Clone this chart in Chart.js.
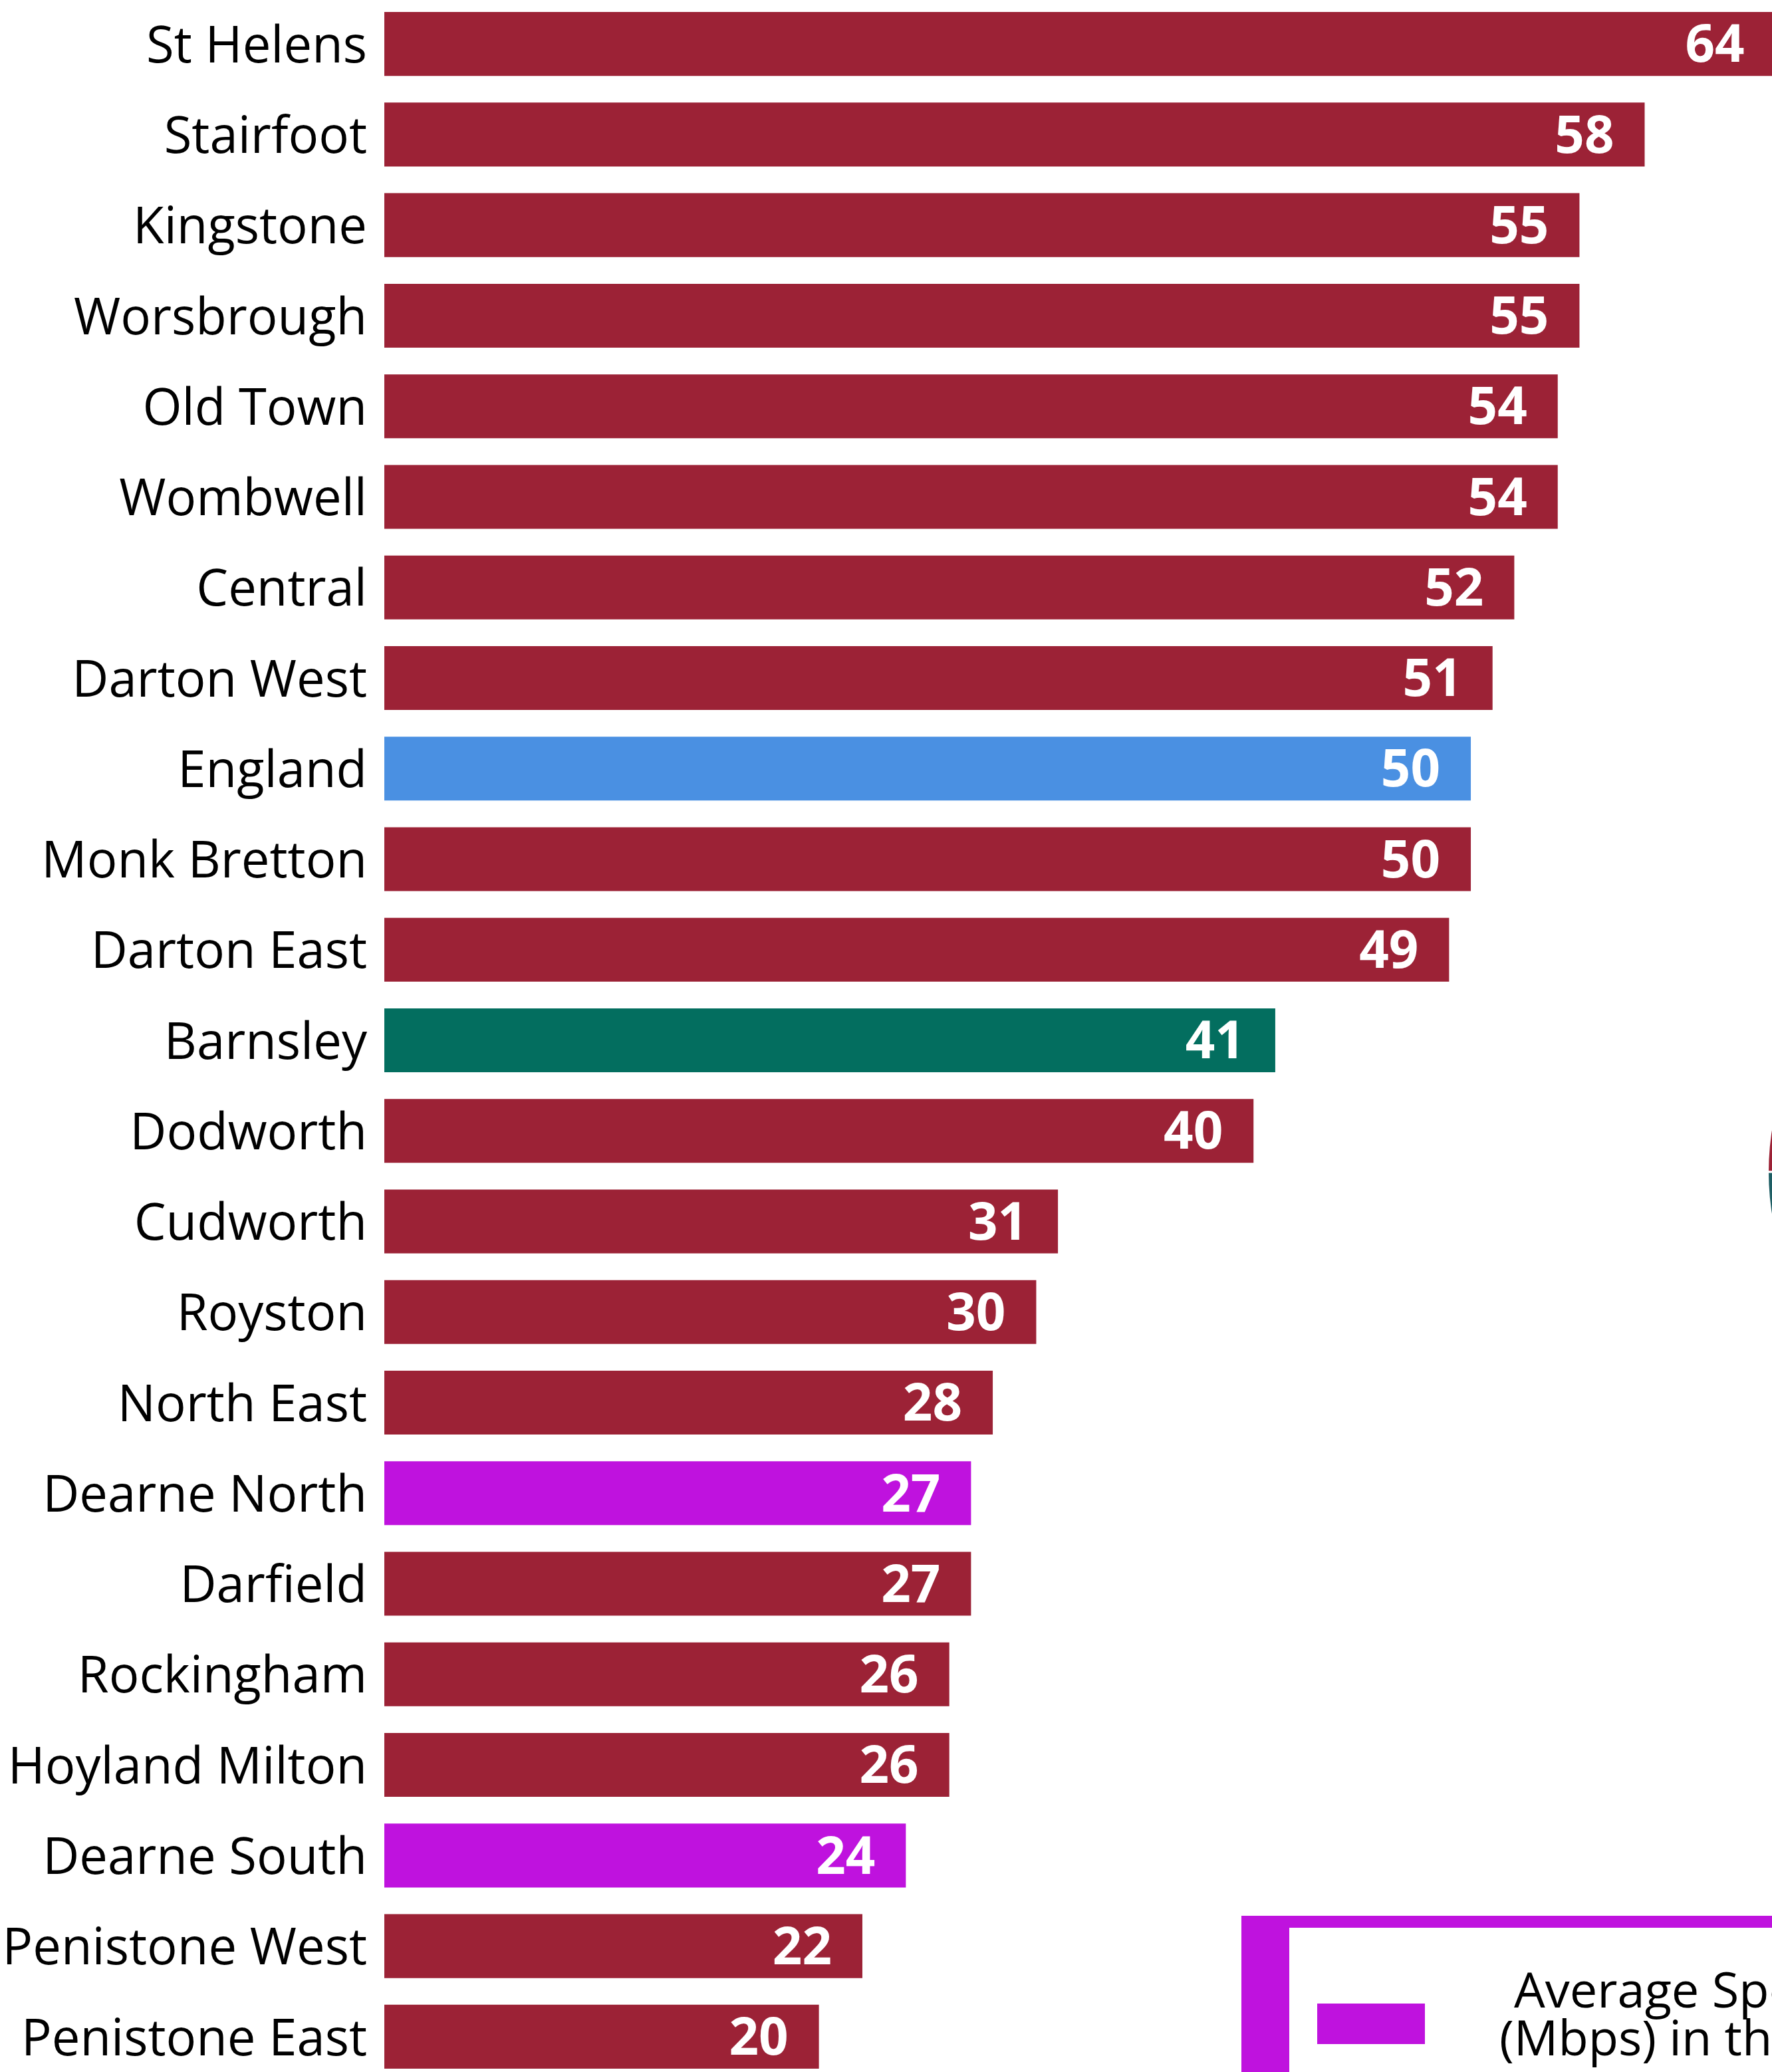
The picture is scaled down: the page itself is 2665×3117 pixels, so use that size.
<!DOCTYPE html>
<html>
<head>
<meta charset="utf-8">
<script src="https://cdn.jsdelivr.net/npm/chart.js@4"></script>
<style>
  html, body { margin: 0; padding: 0; background: #fff; overflow: hidden; width: 2665px; height: 3117px; }
  #barCanvas { position: absolute; left: 0; top: -2px; }
  #pieBox { position: absolute; left: 2657px; top: 1359px; width: 808px; height: 808px; }
</style>
</head>
<body>
<canvas id="barCanvas" width="2665" height="3134"></canvas>
<div id="pieBox"><canvas id="pieCanvas" width="808" height="808"></canvas></div>
<script>
// wards, sorted by speed
const wards = [
    "St Helens", "Stairfoot", "Kingstone", "Worsbrough", "Old Town", "Wombwell",
    "Central", "Darton West", "England", "Monk Bretton", "Darton East", "Barnsley",
    "Dodworth", "Cudworth", "Royston", "North East", "Dearne North", "Darfield",
    "Rockingham", "Hoyland Milton", "Dearne South", "Penistone West", "Penistone East"
];
const speeds = [64, 58, 55, 55, 54, 54, 52, 51, 50, 50, 49, 41, 40, 31, 30, 28, 27, 27, 26, 26, 24, 22, 20];
const legendLines = ["Average Speed", "(Mbps) in the area"];
const pieLabels = ["Above", "Below"];
const pieValues = [50, 50];

const RED = "#9c2236";
const BLUE = "#4a90e2";
const TEAL = "#036e5f";
const PURPLE = "#bf12de";

const barColours = wards.map(function (w) {
    if (w === "England") return BLUE;
    if (w === "Barnsley") return TEAL;
    if (w === "Dearne North" || w === "Dearne South") return PURPLE;
    return RED;
});

// white numbers at the end of each bar
const valueLabels = {
    id: "valueLabels",
    afterDatasetsDraw(chart) {
        const ctx = chart.ctx;
        const meta = chart.getDatasetMeta(0);
        ctx.save();
        ctx.fillStyle = "#ffffff";
        ctx.font = "bold 78px 'Open Sans'";
        ctx.textAlign = "right";
        ctx.textBaseline = "middle";
        meta.data.forEach(function (bar, i) {
            ctx.fillText(String(speeds[i]), bar.x - 46, bar.y + 5);
        });
        ctx.restore();
    }
};

// legend box in the bottom right corner (cut by the edge)
const legendBox = {
    id: "legendBox",
    afterDraw(chart) {
        const ctx = chart.ctx;
        ctx.save();
        ctx.fillStyle = PURPLE;
        ctx.fillRect(1867, 2884, 900, 300);
        ctx.fillStyle = "#ffffff";
        ctx.fillRect(1939, 2902, 900, 300);
        ctx.fillStyle = PURPLE;
        ctx.fillRect(1981, 3016, 162, 61);
        ctx.fillStyle = "#000000";
        ctx.font = "74px 'Open Sans'";
        ctx.textAlign = "left";
        ctx.textBaseline = "alphabetic";
        ctx.fillText(legendLines[0], 2277, 3022);
        ctx.fillText(legendLines[1], 2255, 3094);
        ctx.restore();
    }
};

const barChart = new Chart(document.getElementById("barCanvas"), {
    type: "bar",
    data: {
        labels: wards,
        datasets: [
            {
                label: "Average speed",
                data: speeds,
                backgroundColor: barColours,
                borderWidth: 0,
                barPercentage: 0.705,
                categoryPercentage: 1.0,
            },
        ],
    },
    options: {
        indexAxis: "y",
        responsive: false,
        animation: false,
        layout: { padding: 0 },
        plugins: {
            legend: { display: false },
            tooltip: { enabled: false },
        },
        scales: {
            x: {
                display: false,
                min: 0,
                max: 63.86,
            },
            y: {
                afterFit(scale) {
                    scale.width = 578;
                    scale.paddingTop = 0;
                    scale.paddingBottom = 0;
                },
                grid: { display: false, drawTicks: false },
                border: { display: false },
                ticks: {
                    color: "#000000",
                    padding: 26,
                    labelOffset: 6,
                    font: { family: "'Open Sans'", size: 76 },
                },
            },
        },
    },
    plugins: [valueLabels, legendBox],
});

// pie mostly outside the right edge
const pieChart = new Chart(document.getElementById("pieCanvas"), {
    type: "pie",
    data: {
        labels: pieLabels,
        datasets: [
            {
                data: pieValues,
                backgroundColor: [RED, "#1e5e64"],
                borderColor: "#ffffff",
                borderWidth: 3,
            },
        ],
    },
    options: {
        responsive: false,
        animation: false,
        rotation: 270,
        plugins: {
            legend: { display: false },
            tooltip: { enabled: false },
        },
    },
});
</script>
</body>
</html>
